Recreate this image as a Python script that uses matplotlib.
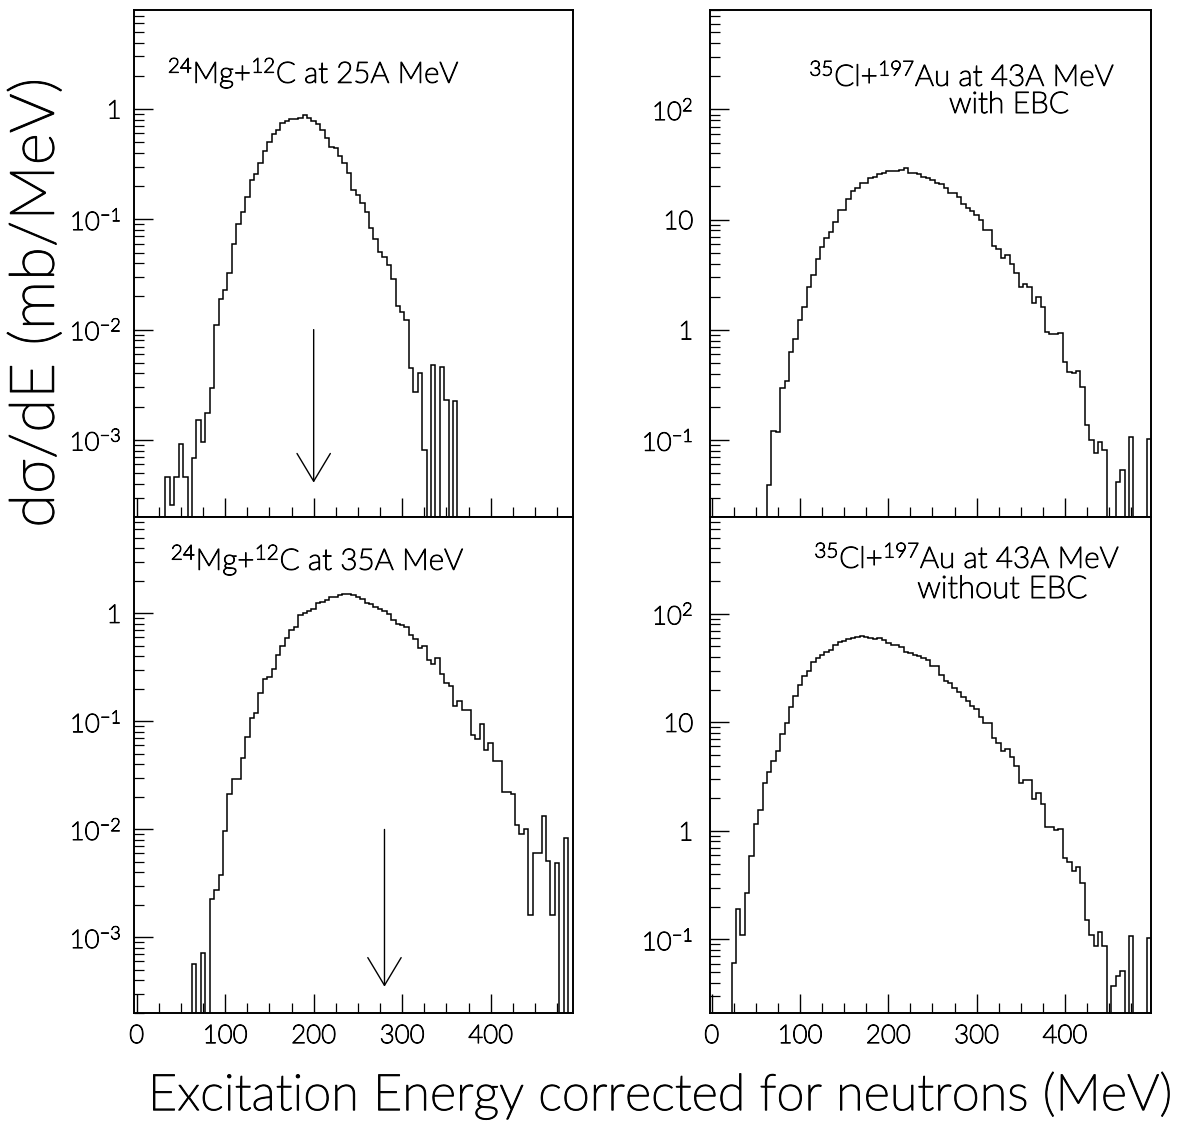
import numpy as np
import matplotlib
matplotlib.use("Agg")
import matplotlib.pyplot as plt
import matplotlib.patheffects as pe
from matplotlib import font_manager as fm
from matplotlib.text import Text
from matplotlib.ticker import FixedLocator, FixedFormatter, MultipleLocator, LogLocator, NullFormatter


def pick_light():
    for name in ['Lato', 'Open Sans', 'Roboto', 'Inter', 'Noto Sans']:
        weights = []
        for f in fm.fontManager.ttflist:
            if f.name != name or f.style != 'normal':
                continue
            w = f.weight
            if isinstance(w, str):
                w = fm.weight_dict.get(w, 400)
            weights.append(int(w))
        light = [w for w in weights if 250 <= w <= 350]
        if light:
            return name, light[0]
    return None, None


FAM, FW = pick_light()
if FAM:
    plt.rcParams['font.family'] = [FAM, 'DejaVu Sans']
    plt.rcParams['font.weight'] = FW
    plt.rcParams['mathtext.fontset'] = 'custom'
    plt.rcParams['mathtext.rm'] = '%s:weight=%d' % (FAM, FW)
    plt.rcParams['mathtext.it'] = '%s:italic:weight=%d' % (FAM, FW)
    plt.rcParams['mathtext.bf'] = FAM + ':bold'
    plt.rcParams['mathtext.sf'] = '%s:weight=%d' % (FAM, FW)
    plt.rcParams['mathtext.default'] = 'rm'
    TEXT_STROKE = 0.7
else:
    plt.rcParams['font.family'] = ['DejaVu Sans']
    plt.rcParams['mathtext.fontset'] = 'dejavusans'
    TEXT_STROKE = 0.0

BIN_WIDTH = 5.0

# log10 of d(sigma)/dE (mb/MeV) per 5 MeV bin; None = empty bin
tl_start = 35
tl_log = [-3.34, -3.59, -3.34, -3.04, -3.34, None, -3.16, -2.82, -3.02, -2.76,
          -2.53, -1.96, -1.72, -1.64, -1.49, -1.22, -1.04, -0.93, -0.80, -0.64,
          -0.585, -0.49, -0.38, -0.30, -0.23, -0.19, -0.125, -0.11, -0.095, -0.089,
          -0.08, -0.05, -0.08, -0.11, -0.14, -0.19, -0.26, -0.34, -0.35, -0.43,
          -0.49, -0.58, -0.73, -0.78, -0.85, -0.93, -1.08, -1.18, -1.30, -1.34,
          -1.41, -1.54, -1.79, -1.84, -1.91, -2.35, -2.57, -2.39, -3.09, None,
          -2.32, None, -2.34, -2.64, None, -2.65]

bl_start = 65
bl_log = [-3.25, None, -3.14, None, -2.64, -2.56, -2.42, -2.01, -1.67, -1.53,
          -1.53, -1.34, -1.14, -0.97, -0.92, -0.74, -0.61, -0.585, -0.514, -0.385,
          -0.30, -0.23, -0.154, -0.123, -0.016, 0.006, 0.024, 0.040, 0.098, 0.107,
          0.123, 0.148, 0.154, 0.169, 0.175, 0.175, 0.169, 0.148, 0.129, 0.100,
          0.090, 0.061, 0.040, 0.020, -0.006, -0.06, -0.10, -0.11, -0.13, -0.20,
          -0.24, -0.32, -0.30, -0.43, -0.47, -0.41, -0.56, -0.64, -0.67, -0.86,
          -0.81, -0.89, -0.89, -1.13, -1.16, -1.02, -1.26, -1.20, -1.37, -1.37,
          -1.65, -1.65, -1.67, -1.96, -2.04, -2.00, -2.79, -2.22, -2.22, -1.88,
          -2.29, -2.79, -2.31, None, -2.08, None]

tr_start = 65
tr_log = [-1.41, -0.92, -0.93, -0.53, -0.46, -0.20, -0.08, 0.09, 0.21, 0.39,
          0.50, 0.64, 0.75, 0.83, 0.89, 0.98, 1.09, 1.09, 1.19, 1.26,
          1.29, 1.33, 1.33, 1.38, 1.39, 1.41, 1.42, 1.44, 1.445, 1.44,
          1.455, 1.467, 1.42, 1.42, 1.41, 1.39, 1.38, 1.36, 1.33, 1.32,
          1.29, 1.24, 1.24, 1.21, 1.14, 1.11, 1.08, 1.04, 1.00, 0.91,
          0.91, 0.76, 0.73, 0.65, 0.68, 0.60, 0.52, 0.39, 0.42, 0.39,
          0.24, 0.30, 0.21, -0.02, -0.04, -0.04, -0.03, -0.29, -0.38, -0.39,
          -0.37, -0.52, -0.86, -1.00, -1.12, -1.02, -1.09, None, None, -1.38,
          -1.27, None, -0.97, None, None, None, -0.99]

br_start = 25
br_log = [-1.22, -0.72, -0.96, -0.57, -0.23, 0.06, 0.19, 0.44, 0.54, 0.64,
          0.74, 0.89, 0.99, 1.14, 1.24, 1.34, 1.43, 1.47, 1.56, 1.59,
          1.62, 1.645, 1.67, 1.715, 1.74, 1.75, 1.77, 1.78, 1.79, 1.80,
          1.79, 1.78, 1.77, 1.775, 1.76, 1.73, 1.715, 1.71, 1.69, 1.65,
          1.64, 1.62, 1.615, 1.59, 1.57, 1.52, 1.52, 1.44, 1.38, 1.365,
          1.32, 1.28, 1.23, 1.20, 1.15, 1.12, 1.05, 0.99, 0.99, 0.86,
          0.81, 0.74, 0.75, 0.68, 0.60, 0.44, 0.47, 0.47, 0.29, 0.35,
          0.25, 0.04, 0.04, 0.01, 0.02, -0.25, -0.29, -0.37, -0.33, -0.48,
          -0.82, -0.96, -1.06, -0.93, -1.06, None, -1.43, -1.34, -1.29, None,
          -0.97, None, None, None, -0.99]

left_ticks = [1e-3, 1e-2, 1e-1, 1]
left_labels = [r'$10^{-3}$', r'$10^{-2}$', r'$10^{-1}$', '1']
right_ticks = [1e-1, 1, 10, 100]
right_labels = [r'$10^{-1}$', '1', '10', r'$10^{2}$']
x_ticks = [0, 100, 200, 300, 400]
x_labels = ['0', '100', '200', '300', '400']

W, H = 1187, 1137
fig = plt.figure(figsize=(W / 100, H / 100), dpi=100)
fig.canvas.draw()
renderer = fig.canvas.get_renderer()


def text_px(s, x, y, target, dim='w', **kw):
    t = fig.text(x / W, 1 - y / H, s, fontsize=20, **kw)
    bb = t.get_window_extent(renderer)
    cur = bb.width if dim == 'w' else bb.height
    t.set_fontsize(20 * target / cur)
    return t


# tick label size: "100" should be ~45 px wide
probe = fig.text(0, 0, '100', fontsize=20)
TICK_FS = 20 * 45.0 / probe.get_window_extent(renderer).width
probe.remove()


def px_axes(x0, y0, x1, y1):
    return fig.add_axes([x0 / W, 1 - y1 / H, (x1 - x0) / W, (y1 - y0) / H])


ax_tl = px_axes(134, 10, 573, 517)
ax_bl = px_axes(134, 517, 573, 1013)
ax_tr = px_axes(710, 10, 1151, 517)
ax_br = px_axes(710, 517, 1151, 1013)

FLOOR = 1e-9


def draw_hist(ax, start, logs):
    vals = np.array([FLOOR if v is None else 10.0 ** v for v in logs])
    edges = start - BIN_WIDTH / 2 + BIN_WIDTH * np.arange(len(vals) + 1)
    ax.stairs(vals, edges, baseline=FLOOR, color='black', lw=1.1)


def style(ax, ylim, xlim, yt, yl, show_xlabels, ypad):
    ax.set_yscale('log')
    ax.set_ylim(*ylim)
    ax.set_xlim(*xlim)
    ax.yaxis.set_major_locator(FixedLocator(yt))
    ax.yaxis.set_major_formatter(FixedFormatter(yl))
    ax.yaxis.set_minor_locator(LogLocator(base=10, subs=np.arange(2, 10), numticks=20))
    ax.yaxis.set_minor_formatter(NullFormatter())
    ax.xaxis.set_major_locator(FixedLocator(x_ticks))
    if show_xlabels:
        ax.xaxis.set_major_formatter(FixedFormatter(x_labels))
    else:
        ax.xaxis.set_major_formatter(NullFormatter())
    ax.xaxis.set_minor_locator(MultipleLocator(25))
    ax.tick_params(which='major', direction='in', length=14, width=1.0,
                   labelsize=TICK_FS, top=False, right=False)
    ax.tick_params(which='minor', direction='in', length=7, width=0.9,
                   top=False, right=False)
    ax.tick_params(axis='y', which='major', pad=ypad)
    ax.tick_params(axis='x', which='major', pad=8)
    for s in ax.spines.values():
        s.set_linewidth(1.4)


draw_hist(ax_tl, tl_start, tl_log)
draw_hist(ax_bl, bl_start, bl_log)
draw_hist(ax_tr, tr_start, tr_log)
draw_hist(ax_br, br_start, br_log)

style(ax_tl, (2.0e-4, 7.9), (-3, 493), left_ticks, left_labels, False, 9)
style(ax_bl, (2.0e-4, 7.8), (-3, 493), left_ticks, left_labels, True, 9)
style(ax_tr, (0.02, 800), (-2, 497.5), right_ticks, right_labels, False, 12)
style(ax_br, (0.021, 780), (-2, 497.5), right_ticks, right_labels, True, 12)

# arrows
arrow_kw = dict(arrowstyle='->,head_length=2.0,head_width=1.2', lw=1.0,
                color='black', mutation_scale=10, shrinkA=0, shrinkB=0)
ax_tl.annotate('', xy=(200, 4.1e-4), xytext=(200, 1e-2), arrowprops=arrow_kw)
ax_bl.annotate('', xy=(280, 3.5e-4), xytext=(280, 1e-2), arrowprops=arrow_kw)

# panel labels (positions and widths in reference pixels)
text_px(r'$^{24}$Mg+$^{12}$C at 25A MeV', 314, 83, 292, ha='center', va='baseline')
text_px(r'$^{24}$Mg+$^{12}$C at 35A MeV', 317.5, 570, 294, ha='center', va='baseline')
text_px(r'$^{35}$Cl+$^{197}$Au at 43A MeV', 962, 86, 306, ha='center', va='baseline')
text_px('with EBC', 1009, 113, 120, ha='center', va='baseline')
text_px(r'$^{35}$Cl+$^{197}$Au at 43A MeV', 967, 568, 306, ha='center', va='baseline')
text_px('without EBC', 1002.5, 598, 170, ha='center', va='baseline')

text_px('dσ/dE (mb/MeV)', 37, 303, 450, dim='h', rotation=90, ha='center', va='center')
text_px('Excitation Energy corrected for neutrons (MeV)', 660, 1095, 1025,
        ha='center', va='center')

fig.canvas.draw()
if TEXT_STROKE > 0:
    effect = [pe.withStroke(linewidth=TEXT_STROKE, foreground='black')]
    for t in fig.findobj(Text):
        t.set_path_effects(effect)

fig.savefig('out.png', dpi=100)
